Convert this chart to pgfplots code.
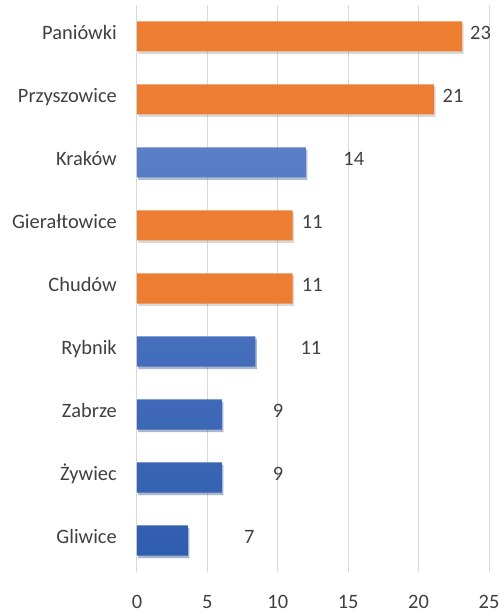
\documentclass[border=0pt]{standalone}
\usepackage{pgfplots}
\pgfplotsset{compat=1.18}
\usepackage{fontspec}
\setmainfont{Carlito}
\usetikzlibrary{shadows}
\definecolor{orng}{HTML}{ED7D31}
\definecolor{blueT}{HTML}{5A7EC8}
\definecolor{blueB}{HTML}{2F5DAE}
\definecolor{txt}{HTML}{404040}
\definecolor{grd}{HTML}{D9D9D9}
\newcommand{\lblfont}{\fontsize{20.5}{24}\selectfont}
\begin{document}
\begin{tikzpicture}
\useasboundingbox (-137bp,-41bp) rectangle (367bp,572bp);
\begin{axis}[
  at={(0,0)}, anchor=south west, scale only axis,
  width=352bp, height=567bp,
  xmin=0, xmax=25, ymin=-0.5, ymax=8.5,
  axis line style={draw=none},
  xmajorgrids, major grid style={grd, line width=1pt},
  xtick={0,5,...,25},
  ytick={0,...,8},
  yticklabels={Gliwice,Żywiec,Zabrze,Rybnik,Chudów,Gierałtowice,Kraków,Przyszowice,Paniówki},
  major tick length=0pt,
  /pgf/number format/assume math mode=true,
  tick label style={font=\lblfont, text=txt, inner sep=0pt},
  yticklabel style={anchor=east, xshift=-20bp, text height=0.8em, text depth=0.168em},
  xticklabel style={anchor=north, yshift=-30bp, text height=0.65em, text depth=0pt},
]
\addplot[xbar, bar width=30bp, bar shift=0pt, fill=orng, draw=none,
  drop shadow={shadow xshift=1.5bp, shadow yshift=-2.5bp, opacity=0.3}]
  coordinates {(23.1,8) (21.1,7) (11.05,5) (11.05,4)};
\addplot[xbar, bar width=30bp, bar shift=0pt, draw=none, top color=blueT, bottom color=blueB,
  drop shadow={shadow xshift=1.5bp, shadow yshift=-2.5bp, opacity=0.3}]
  coordinates {(12.0,6) (8.4,3) (6.03,2) (6.03,1) (3.62,0)};
\addplot[only marks, mark=*, mark size=0pt, mark options={draw=none, fill=none},
  point meta=explicit symbolic, nodes near coords={\pgfplotspointmeta},
  nodes near coords style={anchor=west, inner sep=0pt, font=\lblfont, text=txt, text height=0.8em, text depth=0.168em}]
  coordinates {(23.65,8)[23] (21.7,7)[21] (14.65,6)[14] (11.7,5)[11] (11.7,4)[11] (11.6,3)[11] (9.64,2)[9] (9.64,1)[9] (7.6,0)[7]};
\end{axis}
\end{tikzpicture}
\end{document}
